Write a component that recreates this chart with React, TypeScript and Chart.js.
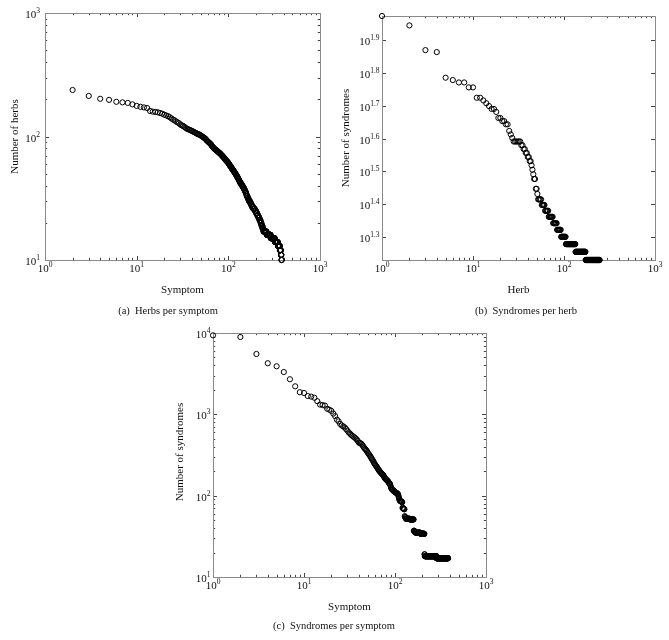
import React, { useEffect, useRef } from "react";
import { Chart, registerables } from "chart.js";

Chart.register(...registerables);

// ---------- DATA ----------
// Ranked distributions: [value, how many consecutive ranks share that value]

// (a) Herbs per symptom (ranks start at 2)
const herbsPerSymptomFirstRank = 2;
const herbsPerSymptom: [number, number][] = [
  [238, 1], [213, 1], [202, 1], [198, 1], [191, 1], [189, 1], [187, 1], [182, 1], [177, 1], [174, 1], [172, 1], [170, 1],
  [161, 1], [159, 1], [158, 1], [157, 1], [155, 1], [153, 1], [150, 1], [148, 1], [146, 1], [143, 1],
  [140, 1], [137, 1], [135, 1], [132, 1], [130, 1], [128, 1], [125, 1], [123, 1], [122, 1], [120, 1],
  [118, 1], [116, 1], [115, 1], [114, 1], [113, 1], [112, 1], [111, 1], [110, 1], [109, 1], [108, 1],
  [107, 1], [106, 1], [105, 1], [104, 2], [103, 1], [102, 1], [101, 1], [100, 1], [99, 1], [98, 1], [97, 1],
  [96, 1], [95, 1], [93, 1], [92, 1], [91, 1], [90, 1], [89, 1], [88, 1], [87, 1], [86, 1], [84, 1], [83, 1],
  [82, 1], [81, 1], [80, 1],
  [79, 2], [78, 1], [77, 2], [76, 1], [75, 2], [74, 2], [73, 1],
  [72, 2], [71, 1], [70, 2], [69, 1], [68, 2], [67, 1], [66, 2], [65, 1], [64, 2], [63, 2], [62, 2], [61, 1],
  [60, 2], [59, 1], [58, 2], [57, 2], [56, 1], [55, 2], [54, 2], [53, 2], [52, 2], [51, 2], [50, 2],
  [49, 2], [48, 2], [47, 2], [46, 2], [45, 2], [44, 2], [43, 2],
  [42, 3], [41, 3], [40, 3], [39, 3], [38, 3], [37, 2], [36, 3], [35, 2], [34, 2],
  [33, 3], [32, 3], [31, 3], [30, 5], [29, 4], [28, 4],
  [27, 6], [26, 8], [25, 6], [24, 6], [23, 6],
  [22, 6], [21, 6], [20, 5], [19, 6], [18, 6],
  [17, 20], [16, 28], [15, 32], [14, 25], [13, 18], [12, 10], [11, 5], [10, 3],
];

// (b) Syndromes per herb (ranks start at 1)
const syndromesPerHerbFirstRank = 1;
const syndromesPerHerb: [number, number][] = [
  [94, 1], [88, 1], [74, 1], [73, 1], [61, 1], [60, 1], [59, 2], [57, 2], [53, 2], [52, 1], [51, 1], [50, 1],
  [49, 2], [48, 1], [46, 2], [45, 2], [44, 2], [42, 1], [41, 1], [40, 1], [39, 6], [38, 2], [37, 2], [36, 2],
  [35, 2], [34, 2], [33, 1], [32, 1], [31, 1], [30, 2], [28, 2], [27, 1], [26, 5], [25, 5], [24, 6], [23, 8],
  [22, 8], [21, 9], [20, 12], [19, 29], [18, 39], [17, 74],
];

// (c) Syndromes per symptom (ranks start at 1)
const syndromesPerSymptomFirstRank = 1;
const syndromesPerSymptom: [number, number][] = [
  [9360, 1], [8930, 1], [5520, 1], [4250, 1], [3900, 1], [3310, 1], [2700, 1], [2210, 1], [1870, 1], [1830, 1],
  [1680, 1], [1650, 1], [1600, 1], [1450, 1], [1320, 1], [1300, 1], [1280, 1], [1170, 1], [1140, 1], [1100, 1],
  [1020, 1], [950, 1], [860, 1], [820, 1], [760, 1], [730, 1], [710, 1], [690, 1], [660, 1], [630, 1],
  [600, 1], [580, 1], [560, 1], [545, 1], [530, 1], [520, 1], [505, 1], [490, 1], [470, 1], [450, 1],
  [445, 1], [440, 1], [430, 1], [415, 1], [400, 1], [385, 1], [375, 1], [365, 1], [355, 1], [340, 1],
  [330, 1], [320, 1], [310, 1], [300, 1], [290, 1], [280, 1], [272, 1], [262, 1], [252, 1], [245, 1],
  [238, 1], [232, 1], [226, 1], [220, 1], [214, 1], [208, 1], [203, 1], [199, 1], [195, 1], [191, 1],
  [188, 1], [185, 1], [182, 1], [180, 1], [175, 1], [170, 1], [166, 1], [163, 1], [160, 1], [158, 1],
  [156, 1], [154, 1], [152, 1], [150, 1],
  [145, 1], [143, 1], [142, 1], [140, 1], [134, 1], [128, 1], [124, 1], [121, 1], [119, 1], [118, 1],
  [117, 1], [115, 1], [114, 1], [113, 1], [112, 1], [111, 1], [110, 1], [109, 1], [108, 2],
  [107, 1], [106, 1], [105, 1], [104, 1], [100, 1], [96, 1], [92, 1], [89, 1], [87, 1], [86, 2],
  [85, 2], [84, 2], [83, 1], [71, 1], [70, 2], [69, 2], [68, 2], [56, 1], [55, 1], [54, 1], [53, 1],
  [52, 14], [51, 15], [37, 3], [36, 5], [35, 22], [34, 20], [19, 2], [18, 73], [17, 98],
];

// Tick labels (exponents of 10)
const xTickExponents = ["0", "1", "2", "3"];
const aYTickExponents = ["1", "2", "3"];
const bYTickExponents = ["1.3", "1.4", "1.5", "1.6", "1.7", "1.8", "1.9"];
const cYTickExponents = ["1", "2", "3", "4"];

// Text
const aXTitle = "Symptom";
const aYTitle = "Number of herbs";
const aCaption = "(a)  Herbs per symptom";
const bXTitle = "Herb";
const bYTitle = "Number of syndromes";
const bCaption = "(b)  Syndromes per herb";
const cXTitle = "Symptom";
const cYTitle = "Number of syndromes";
const cCaption = "(c)  Syndromes per symptom";

// ---------- HELPERS ----------
function expandRanked(pairs: [number, number][], firstRank: number) {
  const pts: { x: number; y: number }[] = [];
  let r = firstRank;
  for (const [v, n] of pairs) {
    for (let k = 0; k < n; k++) {
      pts.push({ x: r, y: v });
      r++;
    }
  }
  return pts;
}

const SERIF = '"Liberation Serif", "DejaVu Serif", serif';
const W = 669;
const H = 640;

type PanelCfg = {
  id: string;
  points: { x: number; y: number }[];
  area: { left: number; top: number; right: number; bottom: number };
  yMin: number;
  yMax: number;
  xTicks: string[];
  yTicks: string[];
  yMinor: boolean;
  yLabelGap: number;
  xTitle: string;
  xTitlePos: [number, number];
  yTitle: string;
  yTitlePos: [number, number];
  caption: string;
  captionPos: [number, number];
};

const panels: PanelCfg[] = [
  {
    id: "a",
    points: expandRanked(herbsPerSymptom, herbsPerSymptomFirstRank),
    area: { left: 45, top: 13, right: 320, bottom: 260 },
    yMin: 10,
    yMax: 1000,
    xTicks: xTickExponents,
    yTicks: aYTickExponents,
    yMinor: true,
    yLabelGap: 5,
    xTitle: aXTitle,
    xTitlePos: [182.5, 292.5],
    yTitle: aYTitle,
    yTitlePos: [18, 136.5],
    caption: aCaption,
    captionPos: [168, 314],
  },
  {
    id: "b",
    points: expandRanked(syndromesPerHerb, syndromesPerHerbFirstRank),
    area: { left: 382, top: 16, right: 655, bottom: 260 },
    yMin: 17,
    yMax: 94,
    xTicks: xTickExponents,
    yTicks: bYTickExponents,
    yMinor: false,
    yLabelGap: 2.5,
    xTitle: bXTitle,
    xTitlePos: [518.5, 292.5],
    yTitle: bYTitle,
    yTitlePos: [348.5, 138],
    caption: bCaption,
    captionPos: [526, 314],
  },
  {
    id: "c",
    points: expandRanked(syndromesPerSymptom, syndromesPerSymptomFirstRank),
    area: { left: 213, top: 333, right: 486, bottom: 577 },
    yMin: 10,
    yMax: 10000,
    xTicks: xTickExponents,
    yTicks: cYTickExponents,
    yMinor: true,
    yLabelGap: 2.5,
    xTitle: cXTitle,
    xTitlePos: [349.5, 609.5],
    yTitle: cYTitle,
    yTitlePos: [183, 452],
    caption: cCaption,
    captionPos: [334, 629],
  },
];

const BASE_FONT = 11;
const EXP_FONT = 7.5;

function drawPow(
  ctx: CanvasRenderingContext2D,
  exp: string,
  x: number,
  baseline: number,
  align: "center" | "right"
) {
  ctx.font = `${BASE_FONT}px ${SERIF}`;
  const wb = ctx.measureText("10").width;
  ctx.font = `${EXP_FONT}px ${SERIF}`;
  const we = ctx.measureText(exp).width;
  const total = wb + we;
  const x0 = align === "center" ? x - total / 2 : x - total;
  ctx.textAlign = "left";
  ctx.textBaseline = "alphabetic";
  ctx.font = `${BASE_FONT}px ${SERIF}`;
  ctx.fillText("10", x0, baseline);
  ctx.font = `${EXP_FONT}px ${SERIF}`;
  ctx.fillText(exp, x0 + wb, baseline - 5);
}

function makeFramePlugin(cfg: PanelCfg) {
  return {
    id: "frame_" + cfg.id,
    beforeDatasetsDraw(chart: any) {
      const ctx: CanvasRenderingContext2D = chart.ctx;
      const { left, right, top, bottom } = chart.chartArea;
      const xs = chart.scales.x;
      const ys = chart.scales.y;
      ctx.save();

      // tick marks (inward, all four sides)
      ctx.strokeStyle = "#444";
      ctx.lineWidth = 1;
      const seg = (x1: number, y1: number, x2: number, y2: number) => {
        ctx.beginPath();
        ctx.moveTo(x1, y1);
        ctx.lineTo(x2, y2);
        ctx.stroke();
      };
      const xTick = (v: number, len: number) => {
        const px = Math.round(xs.getPixelForValue(v)) + 0.5;
        if (px < left || px > right + 1) return;
        seg(px, bottom, px, bottom - len);
        seg(px, top, px, top + len);
      };
      const yTick = (v: number, len: number) => {
        const py = Math.round(ys.getPixelForValue(v)) + 0.5;
        if (py < top || py > bottom + 1) return;
        seg(left, py, left + len, py);
        seg(right, py, right - len, py);
      };
      const xMajorVals = cfg.xTicks.map((e) => Math.pow(10, parseFloat(e)));
      xMajorVals.forEach((v) => xTick(v, 4));
      for (let d = 0; d < 3; d++) for (let m = 2; m <= 9; m++) xTick(m * Math.pow(10, d), 2.2);
      const yMajorVals = cfg.yTicks.map((e) => Math.pow(10, parseFloat(e)));
      yMajorVals.forEach((v) => yTick(v, 4));
      if (cfg.yMinor) {
        const lo = Math.floor(Math.log10(cfg.yMin));
        const hi = Math.ceil(Math.log10(cfg.yMax));
        for (let d = lo; d < hi; d++)
          for (let m = 2; m <= 9; m++) {
            const v = m * Math.pow(10, d);
            if (v > cfg.yMin && v < cfg.yMax) yTick(v, 2.2);
          }
      }

      // box
      ctx.strokeStyle = "#8a8a8a";
      ctx.lineWidth = 1;
      ctx.strokeRect(left + 0.5, top + 0.5, right - left, bottom - top);

      // tick labels
      ctx.fillStyle = "#111";
      cfg.xTicks.forEach((e, i) => {
        const px = xs.getPixelForValue(xMajorVals[i]);
        drawPow(ctx, e, px, bottom + 12, "center");
      });
      cfg.yTicks.forEach((e, i) => {
        const py = ys.getPixelForValue(yMajorVals[i]);
        drawPow(ctx, e, left - cfg.yLabelGap, py + 5, "right");
      });

      // titles
      ctx.font = `${BASE_FONT}px ${SERIF}`;
      ctx.textAlign = "center";
      ctx.textBaseline = "alphabetic";
      ctx.fillText(cfg.xTitle, cfg.xTitlePos[0], cfg.xTitlePos[1]);
      ctx.save();
      ctx.translate(cfg.yTitlePos[0], cfg.yTitlePos[1]);
      ctx.rotate(-Math.PI / 2);
      ctx.fillText(cfg.yTitle, 0, 0);
      ctx.restore();

      ctx.font = `10.5px ${SERIF}`;
      ctx.fillText(cfg.caption, cfg.captionPos[0], cfg.captionPos[1]);

      ctx.restore();
    },
  };
}

function Panel({ cfg }: { cfg: PanelCfg }) {
  const ref = useRef<HTMLCanvasElement>(null);
  useEffect(() => {
    if (!ref.current) return;
    const a = cfg.area;
    const chart = new Chart(ref.current, {
      type: "scatter",
      data: {
        datasets: [
          {
            data: cfg.points,
            showLine: false,
            pointStyle: "circle",
            pointRadius: 2.6,
            pointBorderWidth: 1,
            borderColor: "#000",
            backgroundColor: "rgba(0,0,0,0)",
            pointBackgroundColor: "rgba(0,0,0,0)",
            pointBorderColor: "#000",
            clip: false as any,
          } as any,
        ],
      },
      options: {
        responsive: false,
        maintainAspectRatio: false,
        animation: false,
        events: [],
        layout: {
          padding: { left: a.left, top: a.top, right: W - a.right, bottom: H - a.bottom },
        },
        plugins: {
          legend: { display: false },
          tooltip: { enabled: false },
          title: { display: false },
        },
        scales: {
          x: { type: "logarithmic", min: 1, max: 1000, display: false },
          y: { type: "logarithmic", min: cfg.yMin, max: cfg.yMax, display: false },
        },
      },
      plugins: [makeFramePlugin(cfg)],
    } as any);
    return () => chart.destroy();
  }, [cfg]);
  return (
    <canvas
      ref={ref}
      width={W}
      height={H}
      style={{ position: "absolute", left: 0, top: 0, width: W, height: H }}
    />
  );
}

export default function App() {
  return (
    <div
      style={{
        position: "absolute",
        left: 0,
        top: 0,
        width: W,
        height: H,
        background: "#fff",
        overflow: "hidden",
      }}
    >
      {panels.map((p) => (
        <Panel key={p.id} cfg={p} />
      ))}
    </div>
  );
}
